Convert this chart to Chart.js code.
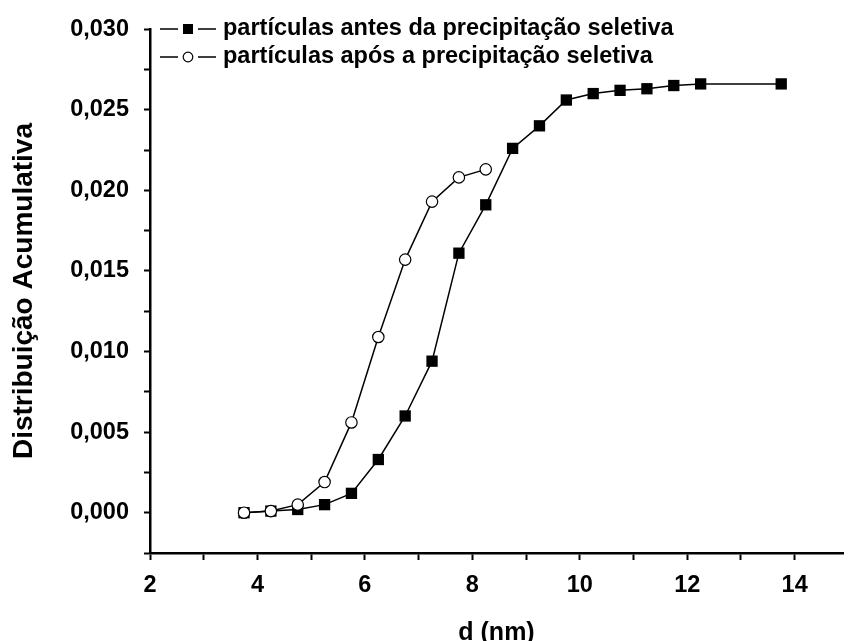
<!DOCTYPE html>
<html>
<head>
<meta charset="utf-8">
<script src="https://cdn.jsdelivr.net/npm/chart.js@4/dist/chart.umd.min.js"></script>
<style>
  html, body { margin: 0; padding: 0; background: #fff; overflow: hidden; }
</style>
</head>
<body>
<canvas id="chart" width="851" height="641"></canvas>
<script>
// diâmetro (nm) e distribuição acumulativa
const dBefore = [3.75, 4.25, 4.75, 5.25, 5.75, 6.25, 6.75, 7.25, 7.75, 8.25,
  8.75, 9.25, 9.75, 10.25, 10.75, 11.25, 11.75, 12.25, 13.75]
const before = [0.0000, 0.0001, 0.0002, 0.0005, 0.0012, 0.0033, 0.0060, 0.0094, 0.0161, 0.0191,
  0.0226, 0.0240, 0.0256, 0.0260, 0.0262, 0.0263, 0.0265, 0.0266, 0.0266]

const dAfter = [3.75, 4.25, 4.75, 5.25, 5.75, 6.25, 6.75, 7.25, 7.75, 8.25]
const after = [0.0000, 0.0001, 0.0005, 0.0019, 0.0056, 0.0109, 0.0157, 0.0193, 0.0208, 0.0213]

const seriesNames = ['partículas antes da precipitação seletiva', 'partículas após a precipitação seletiva']
const xTitle = 'd (nm)'
const yTitle = 'Distribuição Acumulativa'

const FONT = "'Liberation Sans', Arial, Helvetica, sans-serif"
const toPoints = (xs, ys) => xs.map((x, i) => ({ x, y: ys[i] }))

// legenda desenhada à mão: linha — marcador — linha, como no original
const legendPlugin = {
  id: 'lineLegend',
  afterDraw(chart) {
    const ctx = chart.ctx
    const rows = [
      { y: 29, style: 'rect' },
      { y: 57, style: 'circle' },
    ]
    ctx.save()
    rows.forEach((row, i) => {
      ctx.strokeStyle = '#000'
      ctx.lineWidth = 1.5
      ctx.beginPath()
      ctx.moveTo(160, row.y)
      ctx.lineTo(178, row.y)
      ctx.moveTo(198, row.y)
      ctx.lineTo(216, row.y)
      ctx.stroke()
      if (row.style === 'rect') {
        ctx.fillStyle = '#000'
        ctx.fillRect(183, row.y - 5, 10, 10)
      } else {
        ctx.fillStyle = '#fff'
        ctx.lineWidth = 1.2
        ctx.beginPath()
        ctx.arc(188, row.y, 4.8, 0, Math.PI * 2)
        ctx.fill()
        ctx.stroke()
      }
      ctx.fillStyle = '#000'
      ctx.font = 'bold 23.5px ' + FONT
      ctx.textBaseline = 'middle'
      ctx.textAlign = 'left'
      ctx.fillText(seriesNames[i], 223, row.y)
    })
    ctx.restore()
  },
}

new Chart(document.getElementById('chart'), {
  type: 'line',
  data: {
    datasets: [
      {
        label: seriesNames[0],
        data: toPoints(dBefore, before),
        borderColor: '#000',
        borderWidth: 1.5,
        pointStyle: 'rect',
        pointRadius: 8,
        pointBackgroundColor: '#000',
        pointBorderWidth: 0,
        tension: 0,
        order: 1,
        clip: false,
      },
      {
        label: seriesNames[1],
        data: toPoints(dAfter, after),
        borderColor: '#000',
        borderWidth: 1.5,
        pointStyle: 'circle',
        pointRadius: 5.7,
        pointBackgroundColor: '#fff',
        pointBorderColor: '#000',
        pointBorderWidth: 1.2,
        tension: 0,
        order: 0,
        clip: false,
      },
    ],
  },
  options: {
    responsive: false,
    animation: false,
    layout: {
      padding: { top: 26, right: 0, bottom: 0, left: 0 },
    },
    plugins: {
      legend: { display: false },
      tooltip: { enabled: false },
    },
    scales: {
      x: {
        type: 'linear',
        min: 2,
        max: 14.9,
        afterFit: (scale) => { scale.height = 88 },
        border: { display: true, color: '#000', width: 2.5 },
        grid: {
          drawOnChartArea: false,
          drawTicks: true,
          tickLength: 7,
          tickColor: '#000',
          tickWidth: 2,
        },
        ticks: {
          stepSize: 1,
          includeBounds: false,
          autoSkip: false,
          maxRotation: 0,
          padding: 11,
          color: '#000',
          font: { family: FONT, size: 23.5, weight: 'bold' },
          callback: (v) => (Math.round(v) % 2 === 0 ? String(Math.round(v)) : ''),
        },
        title: {
          display: true,
          text: xTitle,
          color: '#000',
          font: { family: FONT, size: 25, weight: 'bold', lineHeight: 0.67 },
          padding: 0,
        },
      },
      y: {
        type: 'linear',
        min: -0.0025,
        max: 0.03,
        afterFit: (scale) => { scale.width = 150 },
        border: { display: true, color: '#000', width: 2.5 },
        grid: {
          drawOnChartArea: false,
          drawTicks: true,
          tickLength: 6,
          tickColor: '#000',
          tickWidth: 2,
        },
        ticks: {
          stepSize: 0.0025,
          autoSkip: false,
          padding: 15,
          color: '#000',
          font: { family: FONT, size: 23.5, weight: 'bold' },
          callback: (v) => {
            const k = v / 0.005
            if (v < -1e-9 || Math.abs(k - Math.round(k)) > 1e-6) return ''
            return Math.abs(v).toFixed(3).replace('.', ',')
          },
        },
        title: {
          display: true,
          text: yTitle,
          color: '#000',
          font: { family: FONT, size: 28, weight: 'bold' },
          padding: { top: 7, bottom: 0 },
        },
      },
    },
  },
  plugins: [legendPlugin],
})
</script>
</body>
</html>
